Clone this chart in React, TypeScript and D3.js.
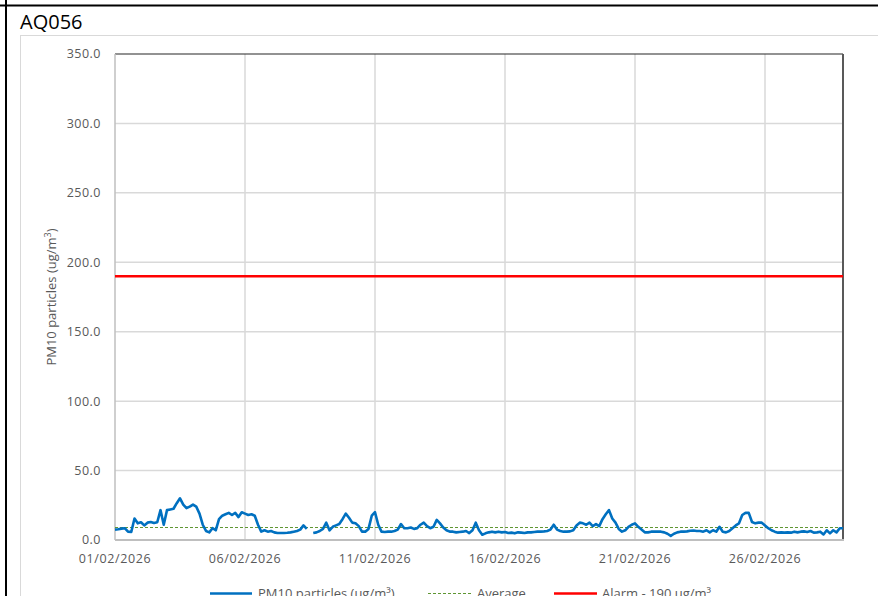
import { useEffect, useRef } from 'react';
import * as d3 from 'd3';

// PM10 readings, one every 3 hours from 01/02/2026 00:00 (null = missing)
const pm10Values: (number | null)[] = [
  7.5, 7.8, 8.2, 8.5, 6.0, 5.8, 15.5, 12.0,
  12.8, 10.5, 12.5, 13.0, 12.2, 12.8, 21.5, 11.0,
  21.5, 22.0, 22.5, 26.5, 30.0, 25.5, 23.0, 24.0,
  25.5, 24.0, 19.0, 11.0, 6.5, 5.5, 8.5, 7.0,
  15.0, 17.5, 18.5, 19.5, 18.0, 19.5, 16.5, 20.0,
  19.0, 18.0, 18.5, 17.5, 11.0, 6.0, 7.0, 6.0,
  6.5, 5.5, 5.0, 5.0, 5.0, 5.2, 5.5, 6.0,
  6.5, 7.5, 10.5, 8.0, null, 5.0, 5.5, 6.5,
  8.0, 12.5, 7.0, 9.5, 10.5, 11.5, 15.0, 19.0,
  16.0, 12.5, 12.0, 10.0, 6.0, 6.0, 8.0, 17.5,
  20.0, 11.0, 6.0, 5.8, 6.0, 6.0, 6.5, 7.5,
  11.5, 8.5, 8.5, 9.0, 8.0, 8.5, 11.0, 12.5,
  10.0, 8.5, 9.5, 14.5, 12.0, 9.0, 7.0, 6.0,
  6.0, 5.5, 5.8, 6.0, 6.5, 5.0, 7.0, 12.5,
  7.0, 3.8, 4.8, 5.5, 6.0, 5.5, 6.0, 5.5,
  5.8, 5.0, 5.3, 4.8, 5.5, 5.3, 5.0, 5.5,
  5.5, 5.8, 6.0, 6.0, 6.2, 6.5, 7.5, 11.0,
  7.5, 6.5, 6.0, 6.0, 6.2, 7.0, 10.5, 12.5,
  12.0, 11.0, 12.5, 10.0, 11.5, 10.0, 15.0, 18.5,
  21.5, 15.5, 12.5, 8.0, 6.0, 7.0, 9.5, 11.0,
  12.0, 9.5, 7.5, 5.5, 5.5, 6.0, 6.0, 6.0,
  6.0, 5.5, 4.5, 3.0, 4.5, 5.5, 6.0, 6.0,
  6.2, 6.7, 6.8, 6.5, 6.5, 6.0, 7.0, 5.5,
  7.0, 6.0, 9.5, 6.0, 5.5, 6.5, 8.5, 10.5,
  12.0, 18.0, 19.5, 19.5, 13.0, 12.0, 12.5, 12.5,
  10.5, 8.5, 7.0, 6.0, 5.3, 5.5, 5.3, 5.5,
  5.3, 6.0, 5.5, 6.0, 6.2, 5.8, 6.5, 5.3,
  5.5, 6.0, 4.0, 7.0, 4.8, 7.0, 5.5, 8.5, 8.5,
];

const averageValue = 9.0;
const alarmValue = 190;
const yTicks = [0, 50, 100, 150, 200, 250, 300, 350];
const xTicks = ['2026-02-01', '2026-02-06', '2026-02-11', '2026-02-16', '2026-02-21', '2026-02-26'];
const legendLabels = ['PM10 particles (ug/m³)', 'Average', 'Alarm - 190 ug/m³'];

const startTime = new Date(2026, 1, 1, 0, 0);
const endTime = new Date(2026, 2, 1, 0, 0);

const App = () => {
  const svgRef = useRef<SVGSVGElement>(null);

  useEffect(() => {
    const width = 878;
    const height = 596;
    const left = 115, right = 843, top = 54, bottom = 540;
    const font = "'Open Sans', 'Noto Sans', sans-serif";
    const avgColor = '#5f9632';

    const svg = d3.select(svgRef.current)
      .attr('width', width)
      .attr('height', height);
    svg.selectAll('*').remove();

    const x = d3.scaleTime().domain([startTime, endTime]).range([left, right]);
    const y = d3.scaleLinear().domain([0, 350]).range([bottom, top]);

    const data = pm10Values.map((v, i) => ({
      t: d3.timeHour.offset(startTime, i * 3),
      v,
    }));

    svg.append('rect').attr('width', width).attr('height', height).attr('fill', '#fff');

    // outer table-like frame
    svg.append('line').attr('x1', 0).attr('x2', width).attr('y1', 5.5).attr('y2', 5.5)
      .attr('stroke', '#000').attr('stroke-width', 2);
    svg.append('line').attr('x1', 6).attr('x2', 6).attr('y1', 0).attr('y2', height)
      .attr('stroke', '#000').attr('stroke-width', 2);

    svg.append('text')
      .attr('x', 20).attr('y', 29)
      .attr('font-family', font).attr('font-size', 20).attr('fill', '#000')
      .text('AQ056');

    // chart area
    svg.append('rect')
      .attr('x', 20.5).attr('y', 35.5).attr('width', 900).attr('height', 600)
      .attr('fill', '#fff').attr('stroke', '#d9d9d9');

    // gridlines
    svg.append('g').selectAll('line')
      .data(yTicks.filter(d => d > 0 && d < 350))
      .join('line')
      .attr('x1', left).attr('x2', right)
      .attr('y1', d => y(d)).attr('y2', d => y(d))
      .attr('stroke', '#d9d9d9').attr('stroke-width', 1.5);

    const xTickDates = xTicks.map(s => d3.timeParse('%Y-%m-%d')(s) as Date);
    svg.append('g').selectAll('line')
      .data(xTickDates.slice(1))
      .join('line')
      .attr('x1', d => x(d)).attr('x2', d => x(d))
      .attr('y1', top).attr('y2', bottom)
      .attr('stroke', '#d9d9d9').attr('stroke-width', 1.5);

    // plot border
    svg.append('line').attr('x1', left).attr('x2', right).attr('y1', top).attr('y2', top)
      .attr('stroke', '#262626').attr('stroke-width', 1.2);
    svg.append('line').attr('x1', right).attr('x2', right).attr('y1', top).attr('y2', bottom)
      .attr('stroke', '#595959').attr('stroke-width', 2);
    svg.append('line').attr('x1', left).attr('x2', left).attr('y1', top).attr('y2', bottom)
      .attr('stroke', '#bfbfbf').attr('stroke-width', 1.5);

    // y labels
    svg.append('g').selectAll('text')
      .data(yTicks)
      .join('text')
      .attr('x', 101).attr('y', d => y(d)).attr('dy', '0.35em')
      .attr('text-anchor', 'end')
      .attr('font-family', font).attr('font-size', 12.5).attr('letter-spacing', 0.5)
      .attr('fill', '#595959')
      .text(d => d3.format('.1f')(d));

    // x labels
    svg.append('g').selectAll('text')
      .data(xTickDates)
      .join('text')
      .attr('x', d => x(d)).attr('y', 563)
      .attr('text-anchor', 'middle')
      .attr('font-family', font).attr('font-size', 12.5).attr('letter-spacing', 0.6)
      .attr('fill', '#595959')
      .text(d => d3.timeFormat('%d/%m/%Y')(d));

    // y title
    const yTitle = svg.append('text')
      .attr('transform', `translate(56, ${(top + bottom) / 2}) rotate(-90)`)
      .attr('text-anchor', 'middle')
      .attr('font-family', font).attr('font-size', 13).attr('fill', '#595959');
    yTitle.append('tspan').text('PM10 particles (ug/m');
    yTitle.append('tspan').attr('font-size', 9).attr('dy', -5).text('3');
    yTitle.append('tspan').attr('dy', 5).text(')');

    // alarm
    svg.append('line').attr('x1', left).attr('x2', right)
      .attr('y1', y(alarmValue)).attr('y2', y(alarmValue))
      .attr('stroke', '#ff0000').attr('stroke-width', 2.5);

    // average
    svg.append('line').attr('x1', left).attr('x2', right)
      .attr('y1', y(averageValue)).attr('y2', y(averageValue))
      .attr('stroke', avgColor).attr('stroke-width', 1).attr('stroke-dasharray', '3,2');

    // PM10 series
    const line = d3.line<{ t: Date; v: number | null }>()
      .defined(d => d.v != null)
      .x(d => x(d.t))
      .y(d => y(d.v as number));

    svg.append('path')
      .datum(data)
      .attr('fill', 'none')
      .attr('stroke', '#0070c0')
      .attr('stroke-width', 2.6)
      .attr('stroke-linejoin', 'round')
      .attr('d', line);

    // bottom axis line
    svg.append('line').attr('x1', left).attr('x2', right + 1).attr('y1', bottom).attr('y2', bottom)
      .attr('stroke', '#bfbfbf').attr('stroke-width', 2);

    // legend (sits at the lower edge, as in the source)
    const legendItems = [
      { label: legendLabels[0], x1: 210, x2: 252, tx: 258, color: '#0070c0', w: 2.6, dash: null },
      { label: legendLabels[1], x1: 428, x2: 471, tx: 477, color: avgColor, w: 1, dash: '3,2' },
      { label: legendLabels[2], x1: 554, x2: 597, tx: 602, color: '#ff0000', w: 2.6, dash: null },
    ];
    const lg = svg.append('g').selectAll('g').data(legendItems).join('g');
    lg.append('line')
      .attr('x1', d => d.x1).attr('x2', d => d.x2).attr('y1', 593.5).attr('y2', 593.5)
      .attr('stroke', d => d.color).attr('stroke-width', d => d.w)
      .attr('stroke-dasharray', d => d.dash);
    lg.append('text')
      .attr('x', d => d.tx).attr('y', 598)
      .attr('font-family', font).attr('font-size', 13).attr('fill', '#595959')
      .text(d => d.label);
  }, []);

  return (
    <svg ref={svgRef} style={{ position: 'absolute', left: 0, top: 0, display: 'block' }}></svg>
  );
};

export default App;
